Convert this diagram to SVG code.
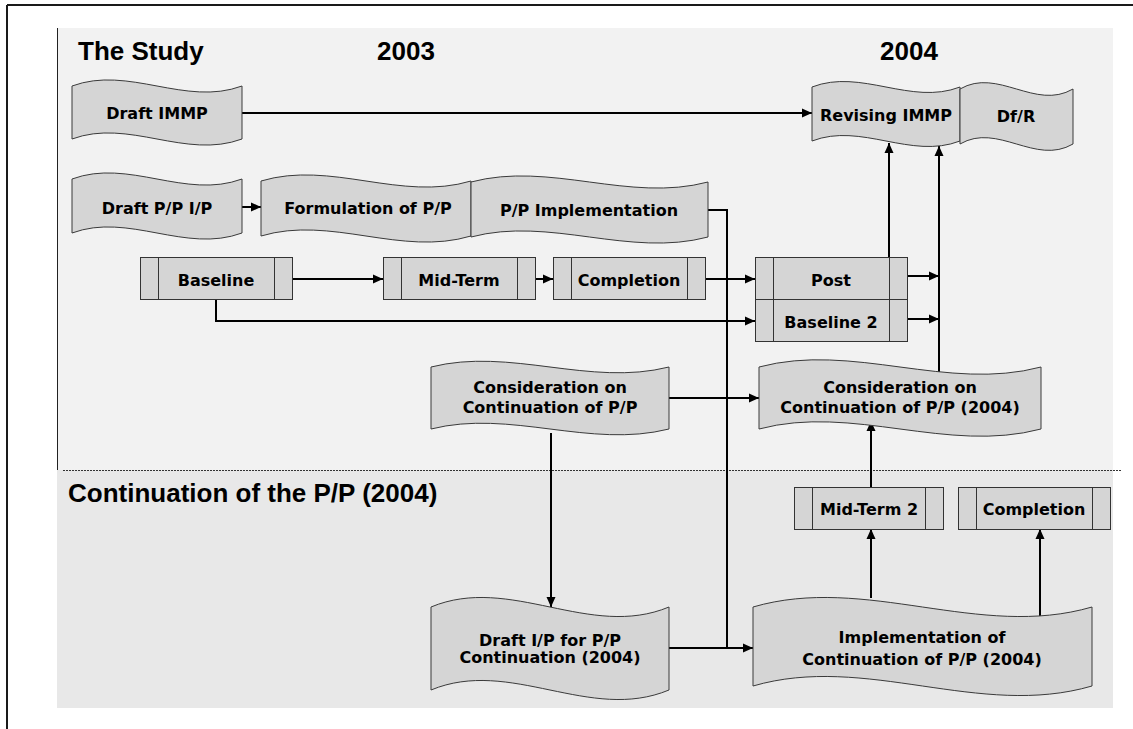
<svg xmlns="http://www.w3.org/2000/svg" width="1133" height="729" viewBox="0 0 1133 729">
  <defs>
    <marker id="arrow" markerUnits="userSpaceOnUse" markerWidth="10" markerHeight="10" viewBox="0 0 10 10" refX="10" refY="5" orient="auto">
      <path d="M0,0.5 L10,5 L0,9.5 Z" fill="#000"/>
    </marker>
    <style>
      .title { font-family: "Liberation Sans", Arial, sans-serif; font-weight: bold; font-size: 26px; fill: #000; }
      .label { font-family: "DejaVu Sans", Verdana, sans-serif; font-weight: bold; font-size: 16px; fill: #000; text-anchor: middle; }
      .wave { fill: #d5d5d5; stroke: #3a3a3a; stroke-width: 1; }
      .box { fill: #d5d5d5; stroke: #333; stroke-width: 1; }
      .div { stroke: #333; stroke-width: 1; fill: none; }
      .conn { stroke: #000; stroke-width: 2; fill: none; }
    </style>
  </defs>

  <!-- page background and frame -->
  <rect x="0" y="0" width="1133" height="729" fill="#fff"/>
  <line x1="7" y1="5" x2="1133" y2="5" stroke="#1a1a1a" stroke-width="2"/>
  <line x1="7" y1="5" x2="7" y2="729" stroke="#1a1a1a" stroke-width="2"/>

  <!-- panels -->
  <rect x="57" y="28" width="1056" height="442" fill="#f2f2f2"/>
  <rect x="57" y="470" width="1056" height="238" fill="#e8e8e8"/>
  <line x1="57.5" y1="28" x2="57.5" y2="470" stroke="#222" stroke-width="1"/>
  <line x1="63" y1="470.5" x2="1122" y2="470.5" stroke="#333" stroke-width="1" stroke-dasharray="2 1"/>

  <!-- headings -->
  <text class="title" x="78" y="60">The Study</text>
  <text class="title" x="377" y="60">2003</text>
  <text class="title" x="880" y="60">2004</text>
  <text class="title" x="68" y="502">Continuation of the P/P (2004)</text>

  <!-- connectors -->
  <g id="connectors">
    <path class="conn" d="M242,113 H812" marker-end="url(#arrow)"/>
    <path class="conn" d="M242,207 H261" marker-end="url(#arrow)"/>
    <path class="conn" d="M708,210 H727 V648"/>
    <path class="conn" d="M669,648 H753" marker-end="url(#arrow)"/>
    <path class="conn" d="M293,279 H383" marker-end="url(#arrow)"/>
    <path class="conn" d="M535,279 H553" marker-end="url(#arrow)"/>
    <path class="conn" d="M706,279 H755" marker-end="url(#arrow)"/>
    <path class="conn" d="M216,300 V321 H755" marker-end="url(#arrow)"/>
    <path class="conn" d="M908,276 H939" marker-end="url(#arrow)"/>
    <path class="conn" d="M908,319 H939" marker-end="url(#arrow)"/>
    <path class="conn" d="M889,257 V143" marker-end="url(#arrow)"/>
    <path class="conn" d="M939,373 V146" marker-end="url(#arrow)"/>
    <path class="conn" d="M669,398 H759" marker-end="url(#arrow)"/>
    <path class="conn" d="M551,433 V607" marker-end="url(#arrow)"/>
    <path class="conn" d="M871,487 V421" marker-end="url(#arrow)"/>
    <path class="conn" d="M871,598 V529" marker-end="url(#arrow)"/>
    <path class="conn" d="M1040,616 V529" marker-end="url(#arrow)"/>
  </g>

  <!-- wave-shaped nodes -->
  <g id="draft-immp">
    <path class="wave" d="M72,86 C128.7,65 185.3,107 242,86 L242,139 C185.3,160 128.7,118 72,139 Z"/>
    <text class="label" x="157" y="119">Draft IMMP</text>
  </g>
  <g id="draft-pp-ip">
    <path class="wave" d="M72,179 C128.7,158 185.3,200 242,179 L242,233 C185.3,254 128.7,212 72,233 Z"/>
    <text class="label" x="157" y="214">Draft P/P I/P</text>
  </g>
  <g id="formulation">
    <path class="wave" d="M261,181 C331,160 401,202 471,181 L471,236 C401,257 331,215 261,236 Z"/>
    <text class="label" x="368" y="214">Formulation of P/P</text>
  </g>
  <g id="pp-implementation">
    <path class="wave" d="M471,182 C550,161 629,203 708,182 L708,237 C629,258 550,216 471,237 Z"/>
    <text class="label" x="589" y="216">P/P Implementation</text>
  </g>
  <g id="revising-immp">
    <path class="wave" d="M812,87 C861.3,68 910.7,106 960,87 L960,141 C910.7,160 861.3,122 812,141 Z"/>
    <text class="label" x="886" y="121">Revising IMMP</text>
  </g>
  <g id="dfr">
    <path class="wave" d="M960,89 C997.7,67 1035.3,111 1073,89 L1073,144 C1035.3,166 997.7,122 960,144 Z"/>
    <text class="label" x="1016" y="122">Df/R</text>
  </g>
  <g id="consideration">
    <path class="wave" d="M431,367 C510.3,347 589.7,387 669,367 L669,429 C589.7,449 510.3,409 431,429 Z"/>
    <text class="label" x="550" y="393">Consideration on</text>
    <text class="label" x="550" y="413">Continuation of P/P</text>
  </g>
  <g id="consideration-2004">
    <path class="wave" d="M759,367 C853,342 947,392 1041,367 L1041,429 C947,454 853,404 759,429 Z"/>
    <text class="label" x="900" y="393">Consideration on</text>
    <text class="label" x="900" y="413">Continuation of P/P (2004)</text>
  </g>
  <g id="draft-ip-continuation">
    <path class="wave" d="M431,607 C510.3,574 589.7,640 669,607 L669,690 C589.7,723 510.3,657 431,690 Z"/>
    <text class="label" x="550" y="646">Draft I/P for P/P</text>
    <text class="label" x="550" y="663">Continuation (2004)</text>
  </g>
  <g id="implementation-continuation">
    <path class="wave" d="M753,607 C866,574 979,640 1092,607 L1092,686 C979,719 866,653 753,686 Z"/>
    <text class="label" x="922" y="643">Implementation of</text>
    <text class="label" x="922" y="665">Continuation of P/P (2004)</text>
  </g>

  <!-- rectangular nodes with side bands -->
  <g id="baseline">
    <rect class="box" x="140.5" y="257.5" width="152" height="42"/>
    <path class="div" d="M158.5,257.5 V299.5 M274.5,257.5 V299.5"/>
    <text class="label" x="216" y="286">Baseline</text>
  </g>
  <g id="mid-term">
    <rect class="box" x="383.5" y="257.5" width="152" height="42"/>
    <path class="div" d="M401.5,257.5 V299.5 M517.5,257.5 V299.5"/>
    <text class="label" x="459" y="286">Mid-Term</text>
  </g>
  <g id="completion">
    <rect class="box" x="553.5" y="257.5" width="152" height="42"/>
    <path class="div" d="M571.5,257.5 V299.5 M687.5,257.5 V299.5"/>
    <text class="label" x="629" y="286">Completion</text>
  </g>
  <g id="post">
    <rect class="box" x="755.5" y="257.5" width="152" height="42"/>
    <path class="div" d="M773.5,257.5 V299.5 M889.5,257.5 V299.5"/>
    <text class="label" x="831" y="286">Post</text>
  </g>
  <g id="baseline-2">
    <rect class="box" x="755.5" y="299.5" width="152" height="42"/>
    <path class="div" d="M773.5,299.5 V341.5 M889.5,299.5 V341.5"/>
    <text class="label" x="831" y="328">Baseline 2</text>
  </g>
  <g id="mid-term-2">
    <rect class="box" x="794.5" y="487.5" width="149" height="42"/>
    <path class="div" d="M812.5,487.5 V529.5 M925.5,487.5 V529.5"/>
    <text class="label" x="869" y="515">Mid-Term 2</text>
  </g>
  <g id="completion-2">
    <rect class="box" x="958.5" y="487.5" width="152" height="42"/>
    <path class="div" d="M976.5,487.5 V529.5 M1092.5,487.5 V529.5"/>
    <text class="label" x="1034" y="515">Completion</text>
  </g>
</svg>
